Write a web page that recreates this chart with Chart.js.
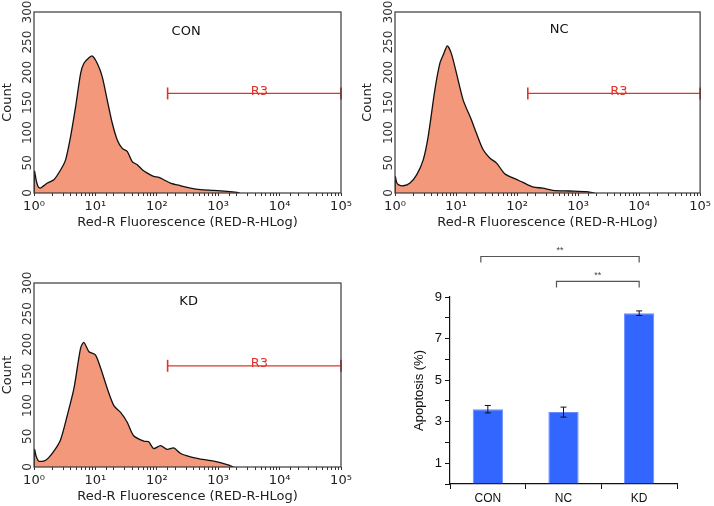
<!DOCTYPE html>
<html lang="en">
<head>
  <meta charset="UTF-8">
  <title>Red-R fluorescence and apoptosis</title>
  <script src="https://cdn.jsdelivr.net/npm/chart.js@4"></script>
  <style>
    body {
      margin: 0;
      background: #fff;
      width: 714px;
      height: 506px;
      overflow: hidden;
      position: relative;
    }
    .panel {
      position: absolute;
    }
  </style>
</head>
<body>
  <div class="panel" style="left:0;top:0;width:357px;height:233px"><canvas id="histCon"></canvas></div>
  <div class="panel" style="left:357px;top:0;width:357px;height:233px"><canvas id="histNc"></canvas></div>
  <div class="panel" style="left:0;top:250px;width:357px;height:257px"><canvas id="histKd"></canvas></div>
  <div class="panel" style="left:380px;top:236px;width:334px;height:270px"><canvas id="barApop"></canvas></div>

  <script>
    // histogram data (fluorescence, count)
    const CON_FLUOR = [1, 1.02, 1.08, 1.15, 1.25, 1.4, 1.65, 2.11, 2.72, 3.27, 3.95, 4.76, 5.74, 6.5, 7.85, 8.9, 10.7, 12.9, 15.6, 18.8, 22.7, 27.4, 33, 39.8, 48, 58, 70, 89, 108, 130, 167, 245, 355, 515, 850, 1400, 2040, 2240];
    const CON_COUNT = [0, 36, 22, 12, 8, 11, 16.5, 22, 38.5, 55, 94, 143, 198, 215, 224, 227, 215, 193, 154, 116, 88, 74, 69, 52, 47, 38.5, 33, 27.5, 26, 22, 16.5, 12, 8, 5.5, 4.4, 2.8, 1, 0];

    const NC_FLUOR = [1, 1.01, 1.06, 1.13, 1.37, 1.76, 2.26, 2.9, 3.5, 4.5, 5.43, 6.3, 7.2, 8.4, 10.2, 13.1, 17.9, 21.6, 27.7, 35.7, 45.8, 62.7, 85.8, 125, 182, 265, 385, 724, 1350, 1860];
    const NC_COUNT = [0, 27.5, 18, 14, 12, 16.5, 30, 55, 94, 171, 215, 231, 244, 231, 198, 154, 121, 99, 72, 58, 50, 32, 25, 17.6, 10, 8, 4.4, 3.3, 2.2, 0];

    const KD_FLUOR = [1, 1.02, 1.08, 1.2, 1.55, 2.11, 2.72, 3.48, 4.47, 5.74, 6.5, 7.85, 10, 12.2, 15.6, 20, 25.7, 33, 42, 62, 74, 89, 115, 147, 189, 245, 355, 515, 850, 1400, 1780];
    const KD_COUNT = [0, 28.6, 18, 9.4, 11, 26, 45, 84, 128, 194, 203, 188, 183, 161, 128, 100, 89, 73, 51, 42, 41, 30, 35, 28.6, 31, 22, 16.5, 13, 9.4, 3.9, 0];

    const HIST_TICKS_Y = [0, 50, 100, 150, 200, 250, 300];
    const DECADE_SUP = ['⁰', '¹', '²', '³', '⁴', '⁵'];

    // R3 gate marker
    const GATE_NAME = 'R3';
    const GATE_START = 150;
    const GATE_END = 100000;
    const GATE_LEVEL = 165;

    // bar chart data
    const GROUPS = ['CON', 'NC', 'KD'];
    const APOPTOSIS = [3.6, 3.46, 8.22];
    const APOPTOSIS_SD = [0.18, 0.24, 0.11];
    const SIG_PAIRS = [[0, 2], [1, 2]];
    const SIG_LEVELS = [10.95, 9.75];
    const SIG_MARK = '**';

    const HIST_FONT = 'DejaVu Sans';
    const FILL_COLOR = '#F4987B';
    const GATE_COLOR = '#E0342B';

    const points = (xs, ys) => xs.map((v, i) => ({ x: v, y: ys[i] }));

    const histDecor = {
      id: 'histDecor',
      afterDatasetsDraw(chart, args, opts) {
        const { ctx, chartArea: a, scales: { x, y } } = chart;
        ctx.save();
        ctx.strokeStyle = '#3a3a3a';
        ctx.lineWidth = 1.2;
        ctx.strokeRect(a.left, a.top, a.width, a.height);

        const x0 = x.getPixelForValue(GATE_START);
        const x1 = x.getPixelForValue(GATE_END);
        const gy = y.getPixelForValue(GATE_LEVEL);
        ctx.font = '13px "' + HIST_FONT + '"';
        ctx.textAlign = 'center';
        ctx.textBaseline = 'middle';
        ctx.fillStyle = GATE_COLOR;
        ctx.fillText(GATE_NAME, (x0 + x1) / 2 + 5, gy - 2);

        ctx.fillStyle = '#111';
        ctx.fillText(opts.label, x.getPixelForValue(opts.labelAt[0]), y.getPixelForValue(opts.labelAt[1]));
        ctx.restore();
      }
    };

    function makeHist(id, fluor, count, label, labelAt, lay) {
      new Chart(document.getElementById(id), {
        type: 'line',
        data: {
          datasets: [
            {
              data: points(fluor, count),
              borderColor: '#111',
              borderWidth: 1.3,
              backgroundColor: FILL_COLOR,
              fill: 'origin',
              pointRadius: 0,
              tension: 0.25
            },
            {
              data: [{ x: GATE_START, y: GATE_LEVEL }, { x: GATE_END, y: GATE_LEVEL }],
              borderColor: GATE_COLOR,
              borderWidth: 1.2,
              fill: false,
              pointStyle: 'line',
              rotation: 90,
              pointRadius: 6,
              pointBorderColor: GATE_COLOR,
              pointBorderWidth: 1.6,
              clip: false
            }
          ]
        },
        options: {
          responsive: true,
          maintainAspectRatio: false,
          animation: false,
          layout: { padding: { top: lay.top, right: lay.right, left: 0, bottom: 0 } },
          plugins: {
            legend: { display: false },
            tooltip: { enabled: false },
            histDecor: { label, labelAt }
          },
          scales: {
            x: {
              type: 'logarithmic',
              min: 1,
              max: 100000,
              afterFit: s => { s.height = 40; },
              border: { display: false },
              grid: { drawOnChartArea: false, tickLength: 3, color: '#333' },
              ticks: {
                autoSkip: false,
                maxRotation: 0,
                padding: 3,
                color: '#222',
                font: { family: HIST_FONT, size: 13 },
                callback: v => {
                  const e = Math.log10(v);
                  const r = Math.round(e);
                  return Math.abs(e - r) < 1e-9 ? '10' + DECADE_SUP[r] : '';
                }
              },
              title: {
                display: true,
                text: 'Red-R Fluorescence (RED-R-HLog)',
                color: '#222',
                padding: { top: 0, bottom: 3 },
                font: { family: HIST_FONT, size: 13 }
              }
            },
            y: {
              min: 0,
              max: 300,
              afterBuildTicks: s => { s.ticks = HIST_TICKS_Y.map(v => ({ value: v })); },
              afterFit: s => { s.width = lay.yWidth; },
              border: { display: false },
              grid: { display: false, drawTicks: false },
              ticks: {
                minRotation: 90,
                maxRotation: 90,
                crossAlign: 'center',
                padding: -5,
                color: '#333',
                font: { family: HIST_FONT, size: 12 }
              },
              title: {
                display: true,
                text: 'Count',
                color: '#222',
                padding: { top: lay.titlePad, bottom: 0 },
                font: { family: HIST_FONT, size: 13 }
              }
            }
          }
        },
        plugins: [histDecor]
      });
    }

    makeHist('histCon', CON_FLUOR, CON_COUNT, 'CON', [300, 267], { top: 12, right: 16, yWidth: 34, titlePad: 0 });
    makeHist('histNc', NC_FLUOR, NC_COUNT, 'NC', [490, 270], { top: 12, right: 13, yWidth: 38, titlePad: 3 });
    makeHist('histKd', KD_FLUOR, KD_COUNT, 'KD', [330, 269], { top: 33, right: 16, yWidth: 34, titlePad: 0 });

    // error bars and significance brackets for the bar chart
    const barDecor = {
      id: 'barDecor',
      afterDatasetsDraw(chart) {
        const { ctx, scales: { x, y } } = chart;
        ctx.save();
        ctx.strokeStyle = '#111';
        ctx.lineWidth = 1;
        APOPTOSIS.forEach((v, i) => {
          const px = x.getPixelForValue(i);
          const hi = y.getPixelForValue(v + APOPTOSIS_SD[i]);
          const lo = y.getPixelForValue(v - APOPTOSIS_SD[i]);
          ctx.beginPath();
          ctx.moveTo(px, hi); ctx.lineTo(px, lo);
          ctx.moveTo(px - 3, hi); ctx.lineTo(px + 3, hi);
          ctx.moveTo(px - 3, lo); ctx.lineTo(px + 3, lo);
          ctx.stroke();
        });

        ctx.strokeStyle = '#555';
        ctx.lineWidth = 1.2;
        ctx.fillStyle = '#444';
        ctx.font = '9px "Liberation Sans"';
        ctx.textAlign = 'center';
        ctx.textBaseline = 'bottom';
        SIG_PAIRS.forEach(([a, b], k) => {
          const xa = x.getPixelForValue(a) - 7;
          const xb = x.getPixelForValue(b);
          const py = y.getPixelForValue(SIG_LEVELS[k]);
          ctx.beginPath();
          ctx.moveTo(xa, py + 6); ctx.lineTo(xa, py);
          ctx.lineTo(xb, py); ctx.lineTo(xb, py + 6);
          ctx.stroke();
          ctx.fillText(SIG_MARK, (xa + xb) / 2, py - 1);
        });
        ctx.restore();
      }
    };

    new Chart(document.getElementById('barApop'), {
      type: 'bar',
      data: {
        labels: GROUPS,
        datasets: [{
          data: APOPTOSIS,
          backgroundColor: '#3366FF',
          borderColor: '#6A8CFF',
          borderWidth: 1,
          categoryPercentage: 1,
          barPercentage: 0.4
        }]
      },
      options: {
        responsive: true,
        maintainAspectRatio: false,
        animation: false,
        layout: { padding: { top: 61, right: 37, left: 0, bottom: 0 } },
        plugins: {
          legend: { display: false },
          tooltip: { enabled: false }
        },
        scales: {
          x: {
            afterFit: s => { s.height = 22; },
            border: { color: '#111', width: 1.2 },
            grid: { offset: true, drawOnChartArea: false, tickLength: 5, color: '#111' },
            ticks: {
              padding: 2,
              color: '#111',
              font: { family: 'Liberation Sans', size: 12 }
            }
          },
          y: {
            min: 0,
            max: 9,
            afterFit: s => { s.width = 70; },
            border: { color: '#111', width: 1.2 },
            grid: { drawOnChartArea: false, tickLength: 5, color: '#111' },
            ticks: {
              stepSize: 1,
              padding: 3,
              color: '#111',
              font: { family: 'Liberation Sans', size: 13 },
              callback: v => (v % 2 === 1 ? String(v) : '')
            },
            title: {
              display: true,
              text: 'Apoptosis (%)',
              color: '#111',
              padding: { top: 32, bottom: 0 },
              font: { family: 'Liberation Sans', size: 13 }
            }
          }
        }
      },
      plugins: [barDecor]
    });
  </script>
</body>
</html>
